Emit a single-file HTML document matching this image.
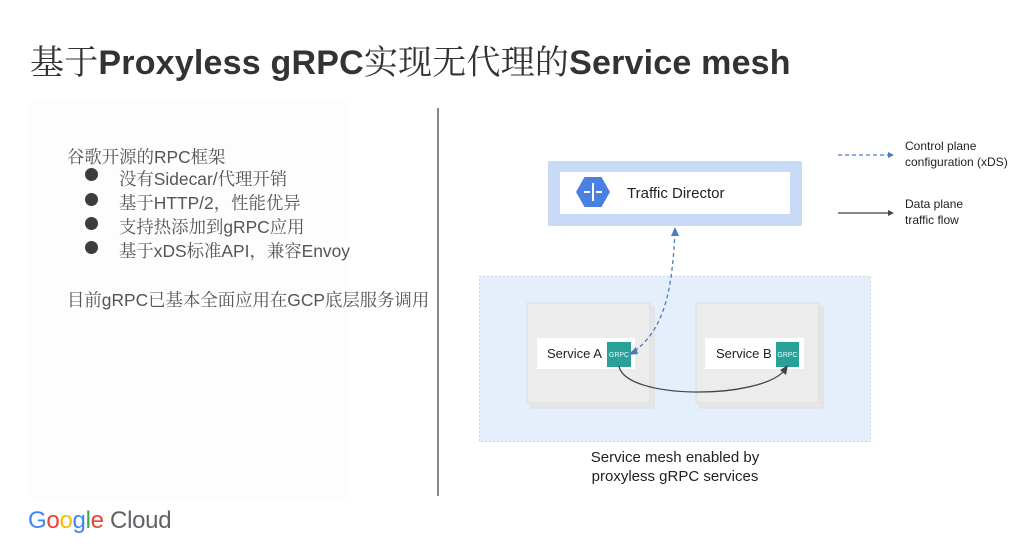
<!DOCTYPE html>
<html><head><meta charset="utf-8"><style>
body{margin:0;width:1025px;height:551px;background:#fff;position:relative;overflow:hidden;font-family:"Liberation Sans","Noto Sans CJK SC",sans-serif;}
.a{position:absolute;white-space:nowrap;}
.t{left:30px;top:38px;font-size:34px;color:#333;line-height:44px;letter-spacing:0.2px;}
.t .c{font-family:"Noto Serif CJK SC",serif;font-weight:400;}
.t .l{font-weight:bold;}
.lt{font-size:17.4px;color:#555;font-family:"Liberation Sans","Noto Serif CJK SC",sans-serif;}
.dot{position:absolute;width:13px;height:13px;border-radius:50%;background:#3c3c3c;}
.lg{font-size:12px;color:#222;line-height:16px;}
</style></head><body>
<div class="a t"><span class="c">基于</span><span class="l">Proxyless gRPC</span><span class="c">实现无代理的</span><span class="l">Service mesh</span></div>
<div style="position:absolute;left:30px;top:100px;width:320px;height:400px;background:#fdfdfd"></div>
<div class="a lt" style="left:67px;top:143px">谷歌开源的RPC框架</div>
<div class="dot" style="left:85px;top:168px"></div><div class="a lt" style="left:119px;top:165px">没有Sidecar/代理开销</div>
<div class="dot" style="left:85px;top:193px"></div><div class="a lt" style="left:119px;top:189px">基于HTTP/2，性能优异</div>
<div class="dot" style="left:85px;top:217px"></div><div class="a lt" style="left:119px;top:213px">支持热添加到gRPC应用</div>
<div class="dot" style="left:85px;top:241px"></div><div class="a lt" style="left:119px;top:237px">基于xDS标准API，兼容Envoy</div>
<div class="a lt" style="left:67px;top:286px">目前gRPC已基本全面应用在GCP底层服务调用</div>
<div style="position:absolute;left:437px;top:108px;width:2px;height:388px;background:#888"></div>

<svg style="position:absolute;left:0;top:0" width="1025" height="551">
<rect x="548" y="161" width="254" height="65" fill="#c9daf6" rx="2"/>
<rect x="560" y="172" width="230" height="42" fill="#fff"/>
<polygon points="576,192 584.5,177 601.5,177 610,192 601.5,207 584.5,207" fill="#4a80e2"/>
<line x1="593" y1="183" x2="593" y2="201" stroke="#fff" stroke-width="2"/>
<path d="M584 192h6M596 192h6" stroke="#fff" stroke-width="2"/>
<text x="627" y="198" font-size="15" fill="#222" font-family="Liberation Sans">Traffic Director</text>
<rect x="479.5" y="276.5" width="391" height="165" fill="#e4effb" stroke="#9fb3c8" stroke-dasharray="1,3"/>
<rect x="531" y="308" width="123" height="100" fill="#e6e6e6" stroke="#ddd"/>
<rect x="527" y="303" width="123" height="100" fill="#ececec" stroke="#ddd"/>
<rect x="700" y="308" width="123" height="100" fill="#e6e6e6" stroke="#ddd"/>
<rect x="696" y="303" width="123" height="100" fill="#ececec" stroke="#ddd"/>
<rect x="537" y="338" width="98" height="31" fill="#fff"/>
<rect x="705" y="338" width="99" height="31" fill="#fff"/>
<text x="547" y="358" font-size="13" fill="#222" font-family="Liberation Sans">Service A</text>
<text x="716" y="358" font-size="13" fill="#222" font-family="Liberation Sans">Service B</text>
<rect x="607" y="342" width="24" height="25" fill="#2aa198"/>
<rect x="776" y="342" width="23" height="25" fill="#2aa198"/>
<text x="619" y="357" font-size="7" fill="#dff" text-anchor="middle" font-family="Liberation Sans">GRPC</text>
<text x="787.5" y="357" font-size="7" fill="#dff" text-anchor="middle" font-family="Liberation Sans">GRPC</text>
<path d="M675 232 C 672 290, 665 330, 632 353" fill="none" stroke="#4a7cc0" stroke-width="1.3" stroke-dasharray="4,3"/>
<polygon points="675,227 671,236 679,236" fill="#4a7cc0"/>
<polygon points="628,355 636,347 638,354" fill="#4a7cc0"/>
<path d="M619 366 C 625 400, 760 400, 785 370" fill="none" stroke="#444" stroke-width="1.3"/>
<polygon points="788,365 780,370 786,375" fill="#444"/>
<text x="675" y="462" font-size="15" fill="#222" text-anchor="middle" font-family="Liberation Sans">Service mesh enabled by</text>
<text x="675" y="481" font-size="15" fill="#222" text-anchor="middle" font-family="Liberation Sans">proxyless gRPC services</text>
<line x1="838" y1="155" x2="890" y2="155" stroke="#4a7cc0" stroke-width="1.3" stroke-dasharray="4,3"/>
<polygon points="894,155 888,152 888,158" fill="#4a7cc0"/>
<line x1="838" y1="213" x2="890" y2="213" stroke="#444" stroke-width="1.3"/>
<polygon points="894,213 888,210 888,216" fill="#444"/>
</svg>
<div class="a lg" style="left:905px;top:138px">Control plane<br>configuration (xDS)</div>
<div class="a lg" style="left:905px;top:196px">Data plane<br>traffic flow</div>
<div class="a" style="left:28px;top:507px;font-size:24px;letter-spacing:-0.3px"><span style="color:#4285f4">G</span><span style="color:#ea4335">o</span><span style="color:#fbbc05">o</span><span style="color:#4285f4">g</span><span style="color:#34a853">l</span><span style="color:#ea4335">e</span> <span style="color:#5f6368">Cloud</span></div>
</body></html>
